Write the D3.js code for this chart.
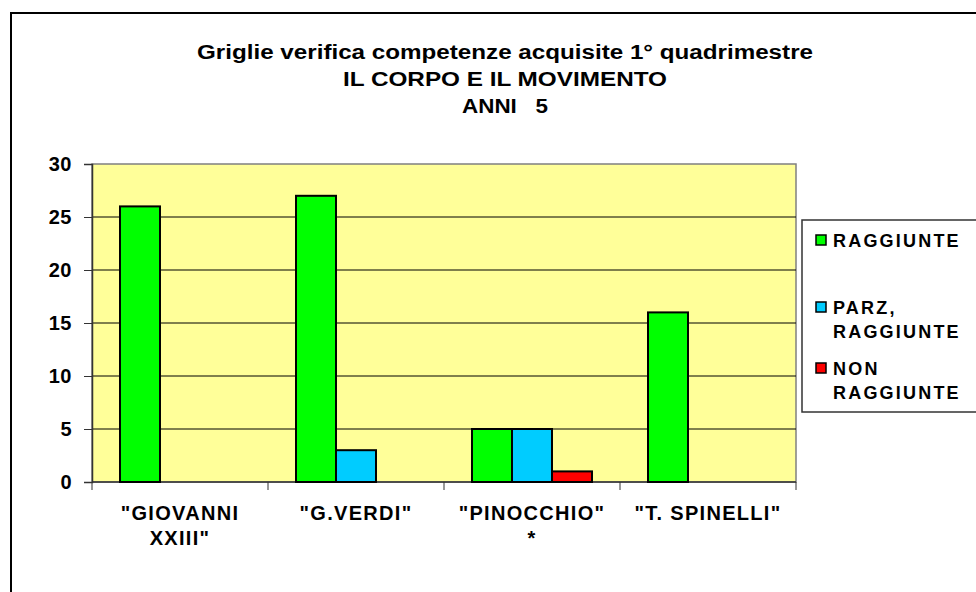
<!DOCTYPE html>
<html>
<head>
<meta charset="utf-8">
<script src="https://cdn.jsdelivr.net/npm/d3@7"></script>
<style>
  body { margin: 0; background: #fff; }
  text { font-family: "Liberation Sans", Arial, sans-serif; font-weight: bold; fill: #000; }
</style>
</head>
<body>
<div id="chart"></div>
<script>
// data
var categories = ['"GIOVANNI XXIII"', '"G.VERDI"', '"PINOCCHIO" *', '"T. SPINELLI"'];
var categoryLines = [['"GIOVANNI', 'XXIII"'], ['"G.VERDI"'], ['"PINOCCHIO"', '*'], ['"T. SPINELLI"']];
var seriesNames = ["RAGGIUNTE", "PARZ, RAGGIUNTE", "NON RAGGIUNTE"];
var legendLines = [["RAGGIUNTE"], ["PARZ,", "RAGGIUNTE"], ["NON", "RAGGIUNTE"]];
var raggiunte = [26, 27, 5, 16];
var parzRaggiunte = [0, 3, 5, 0];
var nonRaggiunte = [0, 0, 1, 0];
var yTicks = [0, 5, 10, 15, 20, 25, 30];
var titleLines = ["Griglie verifica competenze acquisite 1° quadrimestre", "IL CORPO E IL MOVIMENTO", "ANNI   5"];
var titleWidths = [616, 324, 86];
var colors = ["#00ff00", "#00ccff", "#ff0000"];

var svgWidth = 976, svgHeight = 592;
var plot = {left: 92, top: 164, right: 796, bottom: 482};

var svg = d3.select("#chart").append("svg")
    .attr("width", svgWidth)
    .attr("height", svgHeight);

// outer chart frame (runs off the right and bottom edges)
svg.append("rect")
    .attr("x", 11).attr("y", 13)
    .attr("width", 1000).attr("height", 1000)
    .attr("fill", "#fff")
    .attr("stroke", "#000")
    .attr("stroke-width", 2);

// title
svg.append("g").selectAll("text")
    .data(titleLines)
    .enter().append("text")
    .attr("x", 505)
    .attr("y", (d, i) => 59 + i * 27)
    .attr("text-anchor", "middle")
    .attr("font-size", "20px")
    .attr("textLength", (d, i) => titleWidths[i])
    .attr("lengthAdjust", "spacingAndGlyphs")
    .style("white-space", "pre")
    .text(d => d);

// scales
var x0 = d3.scaleBand()
    .domain(categories)
    .range([plot.left, plot.right])
    .paddingInner(0).paddingOuter(0);
var x1 = d3.scaleBand()
    .domain(seriesNames)
    .range([28, x0.bandwidth() - 28])
    .padding(0);
var y = d3.scaleLinear()
    .domain([0, 30])
    .range([plot.bottom, plot.top]);

// plot area
svg.append("rect")
    .attr("x", plot.left).attr("y", plot.top)
    .attr("width", plot.right - plot.left)
    .attr("height", plot.bottom - plot.top)
    .attr("fill", "#ffff99")
    .attr("stroke", "#808080")
    .attr("stroke-width", 1.5);

// gridlines
svg.append("g").selectAll("line")
    .data(yTicks.filter(d => d > 0 && d < 30))
    .enter().append("line")
    .attr("x1", plot.left).attr("x2", plot.right)
    .attr("y1", d => y(d)).attr("y2", d => y(d))
    .attr("stroke", "#000")
    .attr("stroke-width", 1);

// y axis
var leftAxis = d3.axisLeft(y).tickValues(yTicks).tickSize(8).tickPadding(12);
var yAxis = svg.append("g")
    .attr("transform", `translate(${plot.left},0)`)
    .call(leftAxis);
yAxis.select(".domain").attr("stroke", "#333").attr("stroke-width", 1.5);
yAxis.selectAll(".tick line").attr("stroke", "#333");
yAxis.selectAll("text")
    .attr("font-size", "20px")
    .attr("font-family", "'Liberation Sans', Arial, sans-serif")
    .attr("font-weight", "bold")
    .style("letter-spacing", "0.5px");

// x axis (ticks between categories)
var xAxis = svg.append("g")
    .attr("transform", `translate(0,${plot.bottom})`);
xAxis.append("line")
    .attr("x1", plot.left).attr("x2", plot.right)
    .attr("stroke", "#333").attr("stroke-width", 1.5);
xAxis.selectAll("line.tk")
    .data(categories.concat(["end"]))
    .enter().append("line")
    .attr("class", "tk")
    .attr("x1", (d, i) => plot.left + i * x0.bandwidth())
    .attr("x2", (d, i) => plot.left + i * x0.bandwidth())
    .attr("y1", 0).attr("y2", 8)
    .attr("stroke", "#333");

var xLabels = svg.append("g").selectAll("text")
    .data(categories)
    .enter().append("text")
    .attr("text-anchor", "middle")
    .attr("font-size", "20px")
    .style("letter-spacing", "1.3px")
    .attr("x", d => x0(d) + x0.bandwidth() / 2)
    .attr("y", 520);
xLabels.selectAll("tspan")
    .data((d, i) => categoryLines[i])
    .enter().append("tspan")
    .attr("x", function() { return d3.select(this.parentNode).attr("x"); })
    .attr("dy", (d, i) => i === 0 ? 0 : 25)
    .text(d => d);

// bars
var seriesData = [raggiunte, parzRaggiunte, nonRaggiunte];
var groups = svg.append("g").selectAll("g")
    .data(categories)
    .enter().append("g")
    .attr("transform", d => `translate(${x0(d)},0)`);
groups.selectAll("rect")
    .data((c, ci) => seriesNames.map((s, si) => ({series: s, si: si, value: seriesData[si][ci]})))
    .enter().append("rect")
    .filter(d => d.value > 0)
    .attr("x", d => x1(d.series))
    .attr("y", d => y(d.value))
    .attr("width", x1.bandwidth())
    .attr("height", d => y(0) - y(d.value))
    .attr("fill", d => colors[d.si])
    .attr("stroke", "#000")
    .attr("stroke-width", 2);

// legend
var legend = svg.append("g");
legend.append("rect")
    .attr("x", 802).attr("y", 220)
    .attr("width", 200).attr("height", 192)
    .attr("fill", "#fff")
    .attr("stroke", "#333")
    .attr("stroke-width", 1.5);
var legendY = [240, 307, 368];
var items = legend.selectAll("g.item")
    .data(seriesNames)
    .enter().append("g")
    .attr("class", "item")
    .attr("transform", (d, i) => `translate(816,${legendY[i]})`);
items.append("rect")
    .attr("x", 0).attr("y", -5)
    .attr("width", 10).attr("height", 10)
    .attr("fill", (d, i) => colors[i])
    .attr("stroke", "#000")
    .attr("stroke-width", 1.5);
items.append("text")
    .attr("x", 17)
    .attr("y", 7)
    .attr("font-size", "18px")
    .style("letter-spacing", "2.2px")
    .selectAll("tspan")
    .data((d, i) => legendLines[i])
    .enter().append("tspan")
    .attr("x", 17)
    .attr("dy", (d, i) => i === 0 ? 0 : 24)
    .text(d => d);
</script>
</body>
</html>
